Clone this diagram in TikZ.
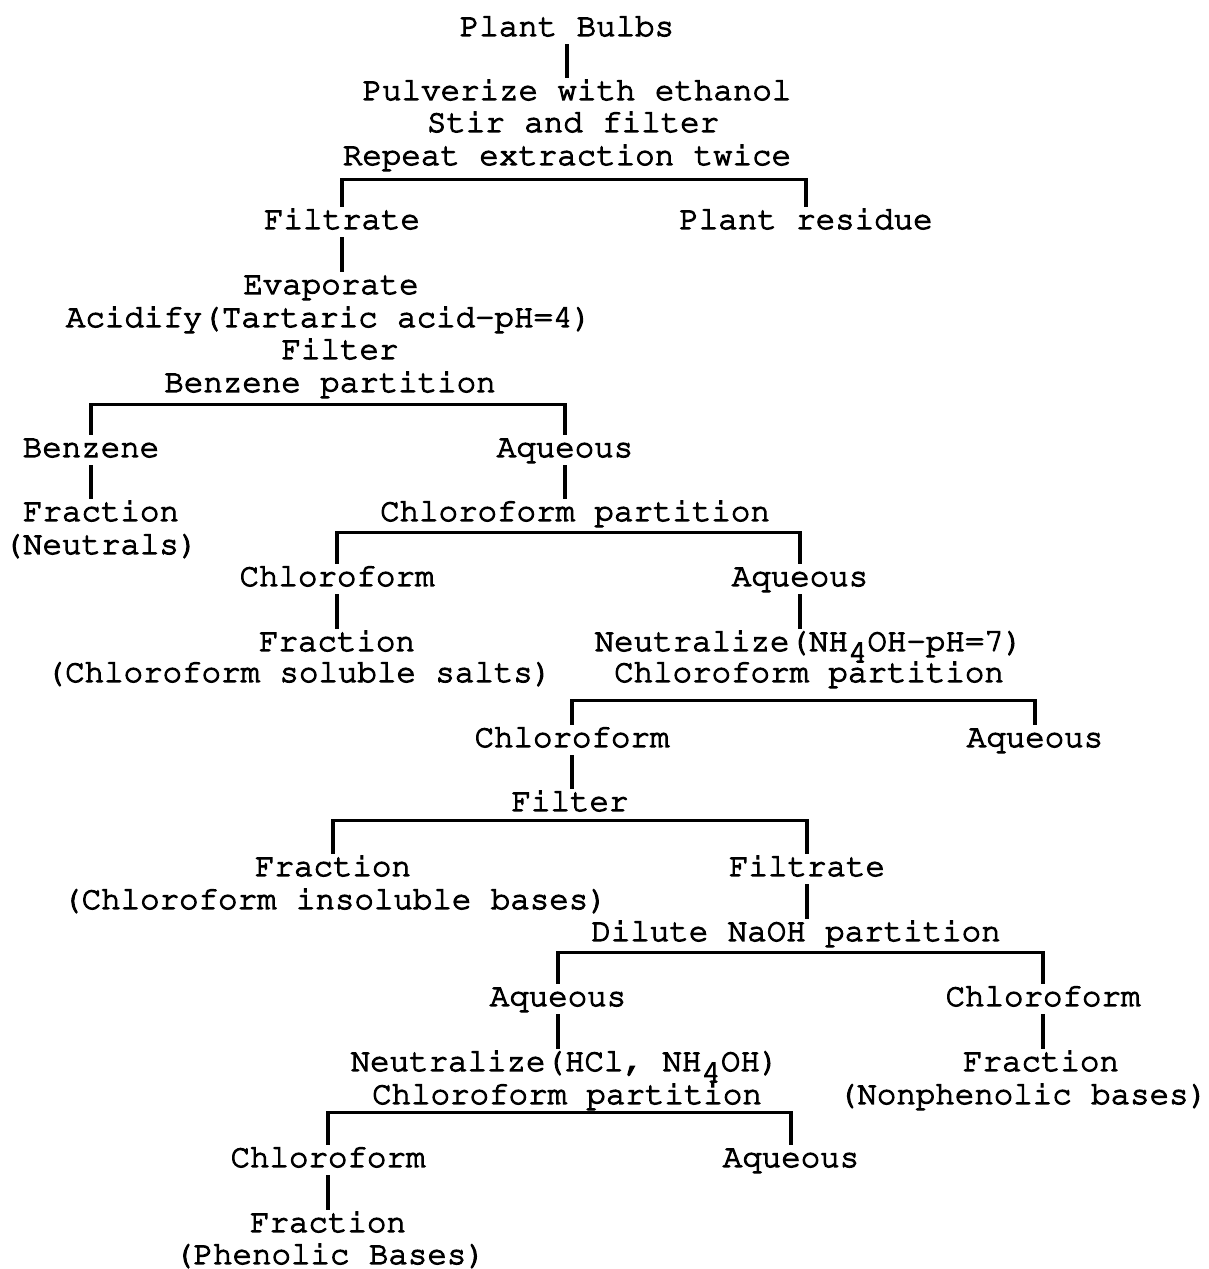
\documentclass[tikz,border=0pt]{standalone}
\usepackage[T1]{fontenc}
\usepackage{courier}
\usepackage{tikz}

\newcommand{\typeink}{\special{pdf:literal direct 2 Tr 0.8 w}}

\begin{document}
\begin{tikzpicture}[every node/.style={font=\typeink\ttfamily\fontsize{23.1}{28}\selectfont, inner sep=0pt, text height=15.6pt, text depth=5.7pt}, link/.style={line width=2.3pt}]

\useasboundingbox (0,0) rectangle (30.225,-31.725);

\node (pb) at (14.175,-0.725) {Plant Bulbs};
\node (pul) [node distance=1.6cm, below of=pb, xshift=0.25cm] {Pulverize with ethanol};
\node (stir) [node distance=0.8cm, below of=pul, xshift=-0.1cm] {Stir and filter};
\node (rep) [node distance=0.825cm, below of=stir, xshift=-0.15cm] {Repeat extraction twice};
\node (fil) [node distance=1.6cm, below of=rep, xshift=-5.625cm] {Filtrate};
\node (res) [node distance=11.6cm, right of=fil] {Plant residue};

\node (eva) [node distance=1.625cm, below of=fil, xshift=-0.275cm] {Evaporate};
\node (aci) [node distance=0.825cm, below of=eva, xshift=-0.05cm] {Acidify(Tartaric acid-pH=4)};
\node (flt) [node distance=0.8cm, below of=aci, xshift=0.275cm] {Filter};
\node (ben) [node distance=0.825cm, below of=flt, xshift=-0.25cm] {Benzene partition};
\node (bz) [node distance=1.625cm, below of=ben, xshift=-5.975cm] {Benzene};
\node (aq1) [node distance=11.85cm, right of=bz] {Aqueous};
\node (frn) [node distance=1.6cm, below of=bz, xshift=0.25cm] {Fraction};
\node (neu) [node distance=0.825cm, below of=frn] {(Neutrals)};

\node (cp1) [node distance=1.6cm, below of=aq1, xshift=0.25cm] {Chloroform partition};
\node (ch2) [node distance=1.625cm, below of=cp1, xshift=-5.95cm] {Chloroform};
\node (aq2) [node distance=11.575cm, right of=ch2] {Aqueous};
\node (frs) [node distance=1.625cm, below of=ch2] {Fraction};
\node (sal) [node distance=0.775cm, below of=frs, xshift=-0.95cm] {(Chloroform soluble salts)};
\node (nz1) [node distance=1.625cm, below of=aq2, xshift=0.225cm] {Neutralize(NH\raisebox{-0.35em}{4}OH-pH=7)};
\node (cp2) [node distance=0.775cm, below of=nz1] {Chloroform partition};

\node (ch3) [node distance=1.625cm, below of=cp2, xshift=-5.925cm] {Chloroform};
\node (aq3) [node distance=11.575cm, right of=ch3] {Aqueous};
\node (flt2) [node distance=1.6cm, below of=ch3, xshift=-0.05cm] {Filter};
\node (fri) [node distance=1.625cm, below of=flt2, xshift=-5.925cm] {Fraction};
\node (ins) [node distance=0.825cm, below of=fri, xshift=0.05cm] {(Chloroform insoluble bases)};
\node (fil2) [node distance=11.85cm, right of=fri] {Filtrate};
\node (dil) [node distance=1.625cm, below of=fil2, xshift=-0.275cm] {Dilute NaOH partition};

\node (aq4) [node distance=1.625cm, below of=dil, xshift=-5.95cm] {Aqueous};
\node (ch4) [node distance=12.125cm, right of=aq4] {Chloroform};
\node (nz2) [node distance=1.625cm, below of=aq4, xshift=0.175cm] {Neutralize(HCl, NH\raisebox{-0.35em}{4}OH)};
\node (cp3) [node distance=0.825cm, below of=nz2, xshift=0.05cm] {Chloroform partition};
\node (frp) [node distance=1.625cm, below of=ch4, xshift=-0.05cm] {Fraction};
\node (nph) [node distance=0.825cm, below of=frp, xshift=-0.45cm] {(Nonphenolic bases)};

\node (ch5) [node distance=1.575cm, below of=cp3, xshift=-5.975cm] {Chloroform};
\node (aq5) [node distance=11.575cm, right of=ch5] {Aqueous};
\node (frph) [node distance=1.625cm, below of=ch5] {Fraction};
\node (phb) [node distance=0.8cm, below of=frph, xshift=0.05cm] {(Phenolic Bases)};


\draw [link] (pb.south) -- (pb.south |- pul.north);
\draw [link] (fil.north) |- ([yshift=-4.3pt]rep.south) -| (res.north);
\draw [link] (fil.south) -- (fil.south |- eva.north);

\draw [link] (bz.north) |- ([yshift=-2.8pt]ben.south) -| (aq1.north);
\draw [link] (bz.south) -- (bz.south |- frn.north);
\draw [link] (aq1.south) -- (aq1.south |- cp1.north);

\draw [link] (ch2.north) |- ([yshift=-2.1pt]cp1.south) -| (aq2.north);
\draw [link] (ch2.south) -- (ch2.south |- frs.north);
\draw [link] (aq2.south) -- (aq2.south |- nz1.north);

\draw [link] (ch3.north) |- ([yshift=-7.1pt]cp2.south) -| (aq3.north);
\draw [link] (ch3.south) -- (ch3.south |- flt2.north);

\draw [link] (fri.north) |- ([yshift=-0.7pt]flt2.south) -| (fil2.north);
\draw [link] (fil2.south) -- (fil2.south |- dil.north);

\draw [link] (aq4.north) |- ([yshift=-2.1pt]dil.south) -| (ch4.north);
\draw [link] (aq4.south) -- (aq4.south |- nz2.north);
\draw [link] (ch4.south) -- (ch4.south |- frp.north);

\draw [link] (ch5.north) |- (cp3.south) -| (aq5.north);
\draw [link] (ch5.south) -- (ch5.south |- frph.north);


\end{tikzpicture}
\end{document}
